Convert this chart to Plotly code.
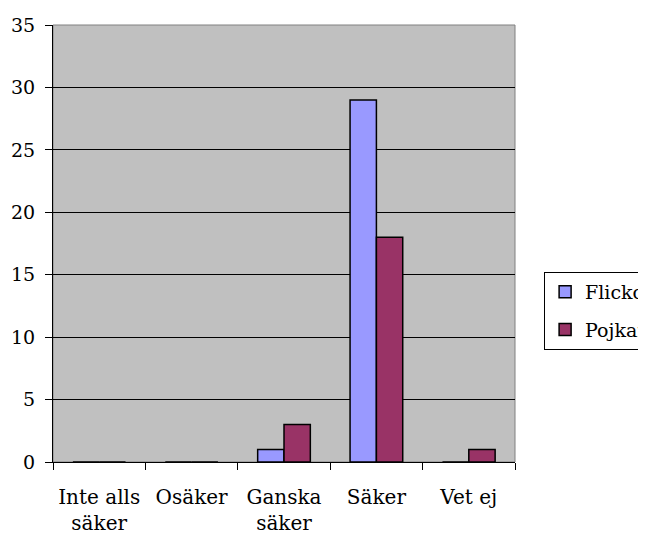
import plotly.graph_objects as go

categories = ["Inte alls<br>säker", "Osäker", "Ganska<br>säker", "Säker", "Vet ej"]
flickor = [0, 0, 1, 29, 0]
pojkar = [0, 0, 3, 18, 1]
yticks = [0, 5, 10, 15, 20, 25, 30, 35]

FONT = "DejaVu Serif"
FS = 20

fig = go.Figure()
fig.add_trace(go.Bar(name="Flickor", x=categories, y=flickor, legendgroup="f",
                     marker=dict(color="#9999FF", line=dict(color="black", width=1.5))))
fig.add_trace(go.Bar(name="Pojkar", x=categories, y=pojkar, legendgroup="p",
                     marker=dict(color="#993366", line=dict(color="black", width=1.5))))

fig.update_layout(
    width=646, height=542,
    margin=dict(l=45, r=139, t=17, b=88, autoexpand=False),
    paper_bgcolor="white",
    plot_bgcolor="#C0C0C0",
    barmode="group",
    bargap=0.43,
    bargroupgap=0,
    font=dict(family=FONT, size=FS, color="black"),
    legend=dict(x=1.063, y=0.435, xanchor="left", yanchor="top",
                bgcolor="white", bordercolor="black", borderwidth=1,
                tracegroupgap=10,
                font=dict(family=FONT, size=19, color="black")),
    shapes=[dict(type="rect", xref="paper", yref="paper", x0=0, x1=1, y0=0, y1=1,
                 line=dict(color="#808080", width=1), layer="below")],
)
fig.update_yaxes(range=[0, 35], tickvals=yticks, showgrid=True, gridcolor="black",
                 gridwidth=1, showline=True, linecolor="black", linewidth=1,
                 ticks="outside", ticklen=7, tickcolor="black", zeroline=False,
                 automargin=False, ticklabelstandoff=6,
                 tickfont=dict(family=FONT, size=19))
fig.update_xaxes(showline=True, linecolor="black", linewidth=1, ticks="outside",
                 tickson="boundaries", ticklen=7, tickcolor="black", tickangle=0,
                 automargin=False, ticklabelstandoff=17,
                 tickfont=dict(family=FONT, size=FS))

fig.write_html("out.html")
